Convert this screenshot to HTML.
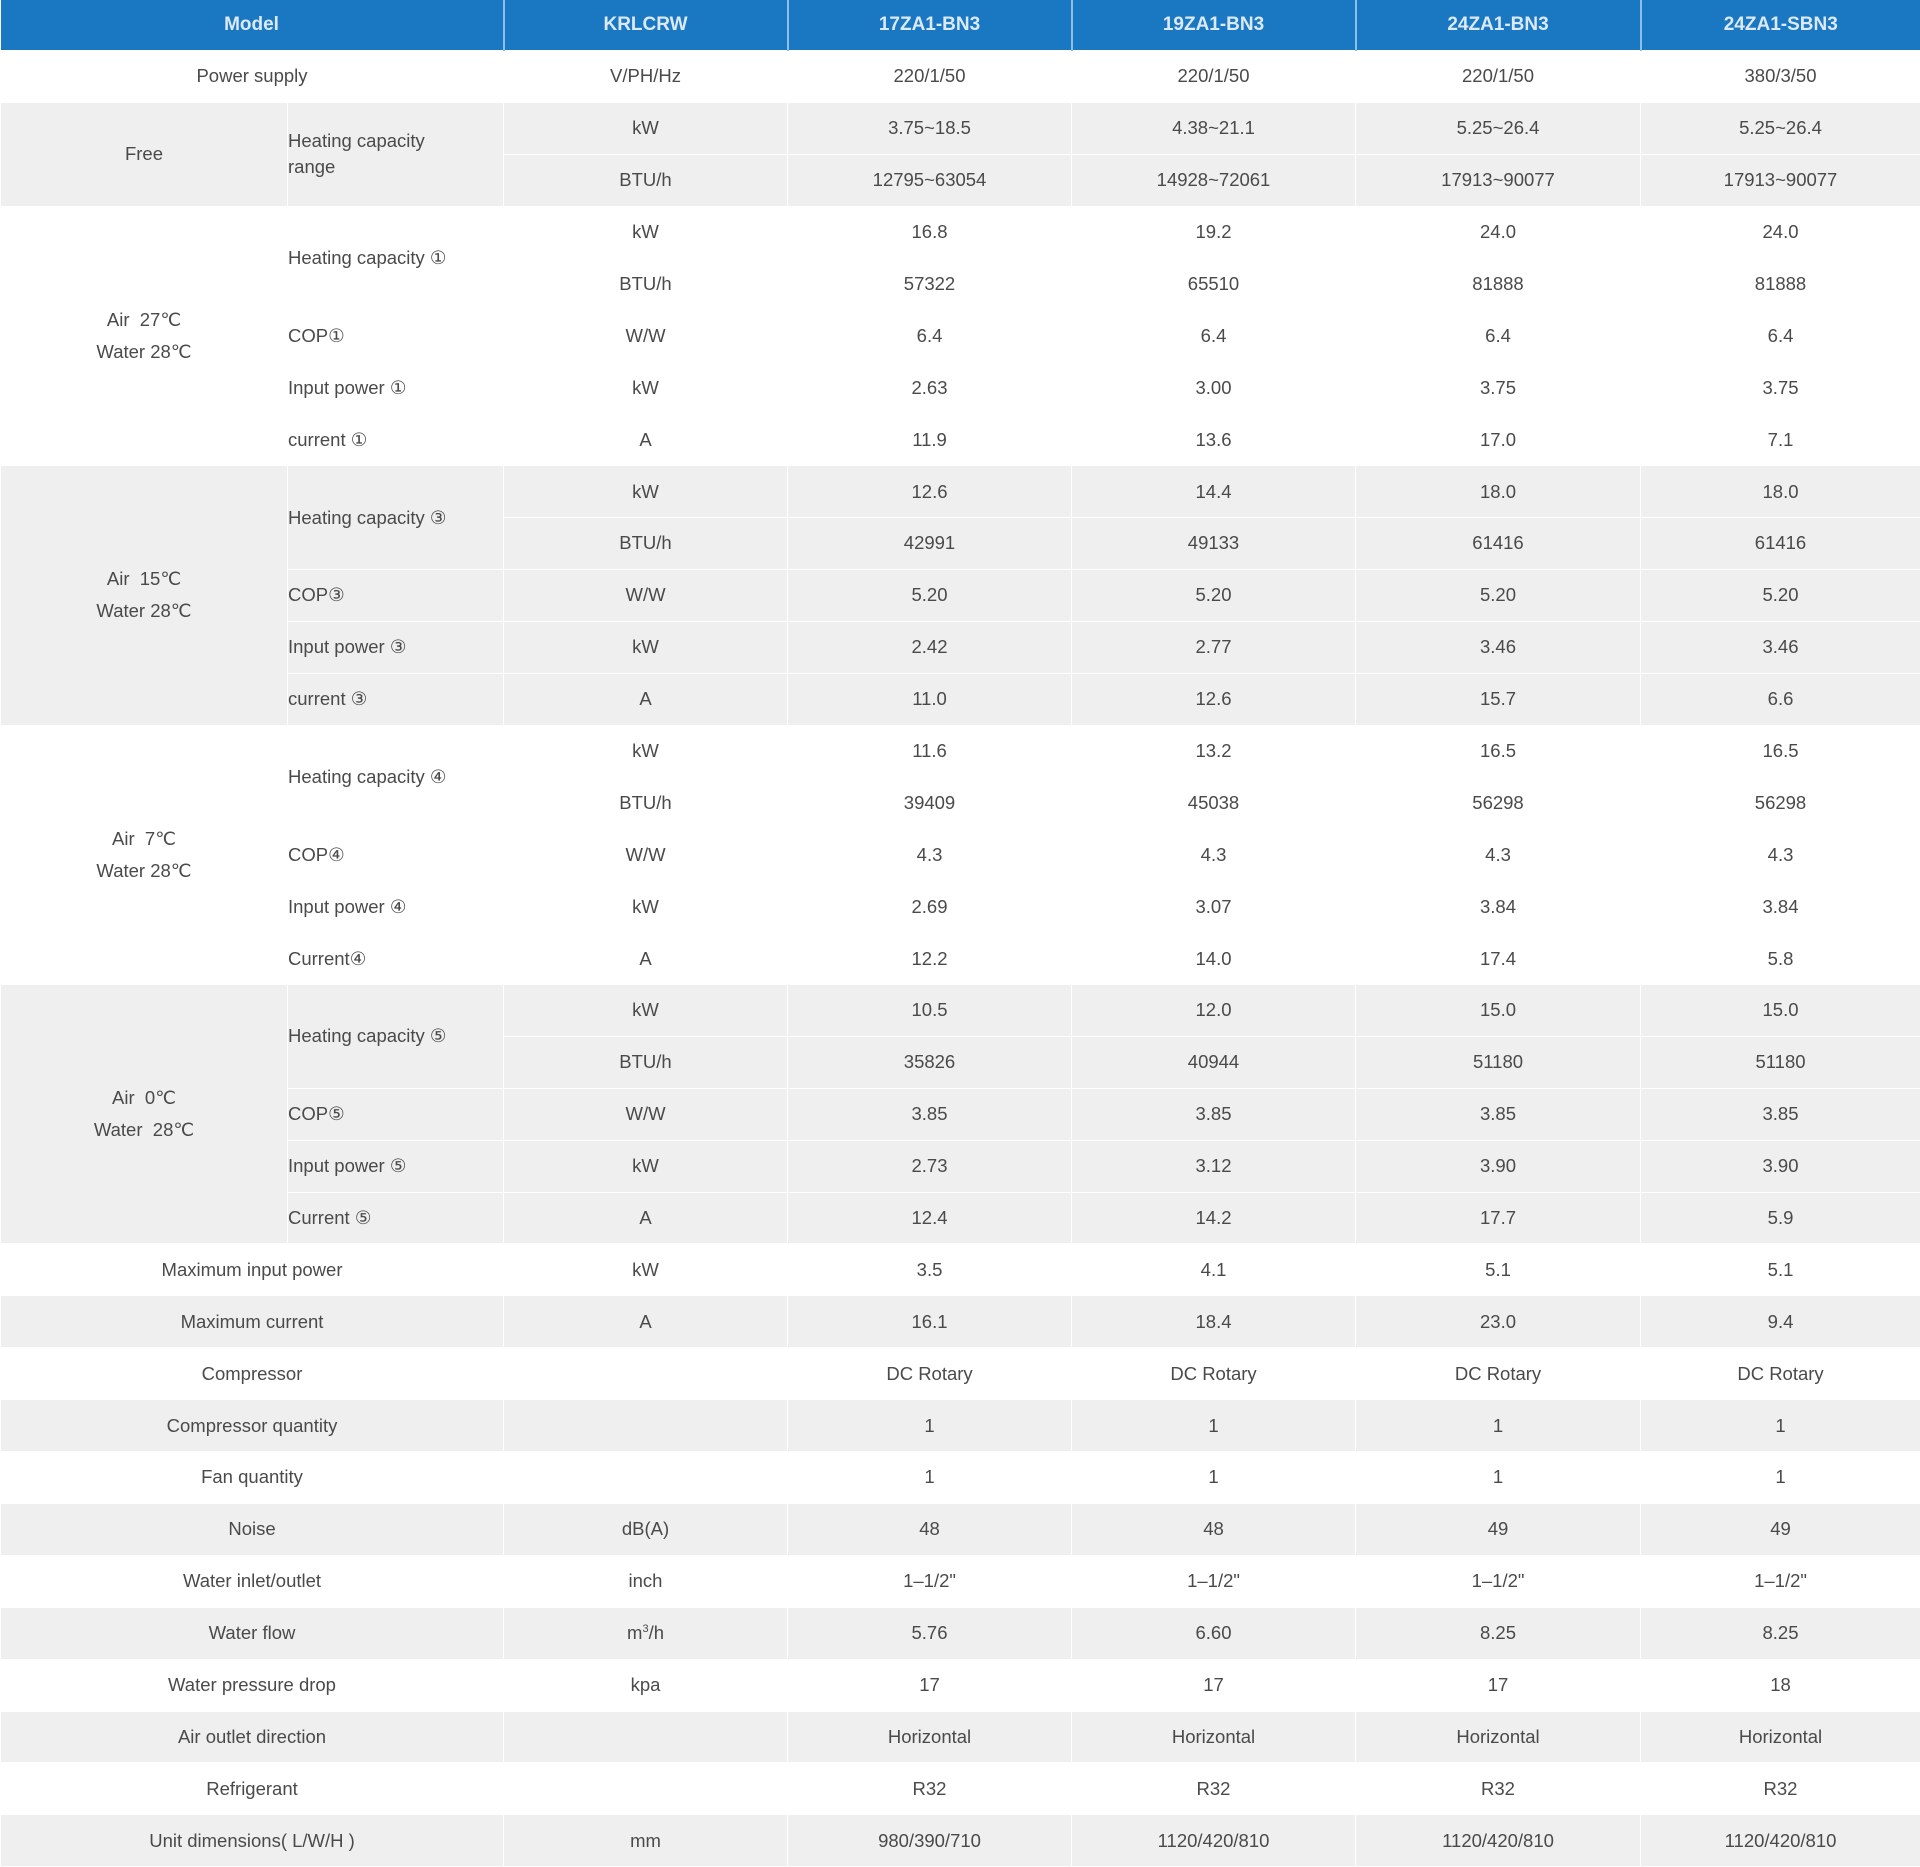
<!DOCTYPE html>
<html><head><meta charset="utf-8"><style>
html,body{margin:0;padding:0;background:#fff;}
body{width:1920px;height:1864px;overflow:hidden;font-family:"Liberation Sans",sans-serif;color:#4a4a4a;font-size:18.5px;}
table{border-collapse:collapse;table-layout:fixed;width:1920px;}
td,th{padding:0;text-align:center;border:1px solid #fff;white-space:nowrap;overflow:hidden;}
th{background:#1a78c2;color:#dce9f8;height:50px;font-size:19px;font-weight:bold;border-left:2px solid #8fbfe6;border-top:0;}
th:first-child{border-left:0}
tr.r td{height:50.9px;}
.g td{background:#efefef;}
td.l{text-align:left;padding-left:0;}
td.b{line-height:32px;}
</style></head><body>
<table>
<colgroup><col style="width:287px"><col style="width:216px"><col style="width:284px"><col style="width:284px"><col style="width:284px"><col style="width:285px"><col style="width:280px"></colgroup>
<tr><th colspan="2">Model</th><th>KRLCRW</th><th>17ZA1-BN3</th><th>19ZA1-BN3</th><th>24ZA1-BN3</th><th>24ZA1-SBN3</th></tr>
<tr class="r"><td colspan="2">Power supply</td><td>V/PH/Hz</td><td>220/1/50</td><td>220/1/50</td><td>220/1/50</td><td>380/3/50</td></tr>
<tr class="r g"><td rowspan="2">Free</td><td rowspan="2" class="l" style="white-space:normal;line-height:26px">Heating capacity<br>range</td><td>kW</td><td>3.75~18.5</td><td>4.38~21.1</td><td>5.25~26.4</td><td>5.25~26.4</td></tr>
<tr class="r g"><td>BTU/h</td><td>12795~63054</td><td>14928~72061</td><td>17913~90077</td><td>17913~90077</td></tr>

<tr class="r"><td rowspan="5" class="b">Air&nbsp; 27℃<br>Water 28℃</td><td rowspan="2" class="l">Heating capacity ①</td><td>kW</td><td>16.8</td><td>19.2</td><td>24.0</td><td>24.0</td></tr>
<tr class="r"><td>BTU/h</td><td>57322</td><td>65510</td><td>81888</td><td>81888</td></tr>
<tr class="r"><td class="l">COP①</td><td>W/W</td><td>6.4</td><td>6.4</td><td>6.4</td><td>6.4</td></tr>
<tr class="r"><td class="l">Input power ①</td><td>kW</td><td>2.63</td><td>3.00</td><td>3.75</td><td>3.75</td></tr>
<tr class="r"><td class="l">current ①</td><td>A</td><td>11.9</td><td>13.6</td><td>17.0</td><td>7.1</td></tr>

<tr class="r g"><td rowspan="5" class="b">Air&nbsp; 15℃<br>Water 28℃</td><td rowspan="2" class="l">Heating capacity ③</td><td>kW</td><td>12.6</td><td>14.4</td><td>18.0</td><td>18.0</td></tr>
<tr class="r g"><td>BTU/h</td><td>42991</td><td>49133</td><td>61416</td><td>61416</td></tr>
<tr class="r g"><td class="l">COP③</td><td>W/W</td><td>5.20</td><td>5.20</td><td>5.20</td><td>5.20</td></tr>
<tr class="r g"><td class="l">Input power ③</td><td>kW</td><td>2.42</td><td>2.77</td><td>3.46</td><td>3.46</td></tr>
<tr class="r g"><td class="l">current ③</td><td>A</td><td>11.0</td><td>12.6</td><td>15.7</td><td>6.6</td></tr>

<tr class="r"><td rowspan="5" class="b">Air&nbsp; 7℃<br>Water 28℃</td><td rowspan="2" class="l">Heating capacity ④</td><td>kW</td><td>11.6</td><td>13.2</td><td>16.5</td><td>16.5</td></tr>
<tr class="r"><td>BTU/h</td><td>39409</td><td>45038</td><td>56298</td><td>56298</td></tr>
<tr class="r"><td class="l">COP④</td><td>W/W</td><td>4.3</td><td>4.3</td><td>4.3</td><td>4.3</td></tr>
<tr class="r"><td class="l">Input power ④</td><td>kW</td><td>2.69</td><td>3.07</td><td>3.84</td><td>3.84</td></tr>
<tr class="r"><td class="l">Current④</td><td>A</td><td>12.2</td><td>14.0</td><td>17.4</td><td>5.8</td></tr>

<tr class="r g"><td rowspan="5" class="b">Air&nbsp; 0℃<br>Water&nbsp; 28℃</td><td rowspan="2" class="l">Heating capacity ⑤</td><td>kW</td><td>10.5</td><td>12.0</td><td>15.0</td><td>15.0</td></tr>
<tr class="r g"><td>BTU/h</td><td>35826</td><td>40944</td><td>51180</td><td>51180</td></tr>
<tr class="r g"><td class="l">COP⑤</td><td>W/W</td><td>3.85</td><td>3.85</td><td>3.85</td><td>3.85</td></tr>
<tr class="r g"><td class="l">Input power ⑤</td><td>kW</td><td>2.73</td><td>3.12</td><td>3.90</td><td>3.90</td></tr>
<tr class="r g"><td class="l">Current ⑤</td><td>A</td><td>12.4</td><td>14.2</td><td>17.7</td><td>5.9</td></tr>

<tr class="r"><td colspan="2">Maximum input power</td><td>kW</td><td>3.5</td><td>4.1</td><td>5.1</td><td>5.1</td></tr>
<tr class="r g"><td colspan="2">Maximum current</td><td>A</td><td>16.1</td><td>18.4</td><td>23.0</td><td>9.4</td></tr>
<tr class="r"><td colspan="2">Compressor</td><td></td><td>DC Rotary</td><td>DC Rotary</td><td>DC Rotary</td><td>DC Rotary</td></tr>
<tr class="r g"><td colspan="2">Compressor quantity</td><td></td><td>1</td><td>1</td><td>1</td><td>1</td></tr>
<tr class="r"><td colspan="2">Fan quantity</td><td></td><td>1</td><td>1</td><td>1</td><td>1</td></tr>
<tr class="r g"><td colspan="2">Noise</td><td>dB(A)</td><td>48</td><td>48</td><td>49</td><td>49</td></tr>
<tr class="r"><td colspan="2">Water inlet/outlet</td><td>inch</td><td>1–1/2"</td><td>1–1/2"</td><td>1–1/2"</td><td>1–1/2"</td></tr>
<tr class="r g"><td colspan="2">Water flow</td><td>m<sup style="font-size:11px">3</sup>/h</td><td>5.76</td><td>6.60</td><td>8.25</td><td>8.25</td></tr>
<tr class="r"><td colspan="2">Water pressure drop</td><td>kpa</td><td>17</td><td>17</td><td>17</td><td>18</td></tr>
<tr class="r g"><td colspan="2">Air outlet direction</td><td></td><td>Horizontal</td><td>Horizontal</td><td>Horizontal</td><td>Horizontal</td></tr>
<tr class="r"><td colspan="2">Refrigerant</td><td></td><td>R32</td><td>R32</td><td>R32</td><td>R32</td></tr>
<tr class="r g"><td colspan="2">Unit dimensions( L/W/H )</td><td>mm</td><td>980/390/710</td><td>1120/420/810</td><td>1120/420/810</td><td>1120/420/810</td></tr>
</table>
</body></html>
